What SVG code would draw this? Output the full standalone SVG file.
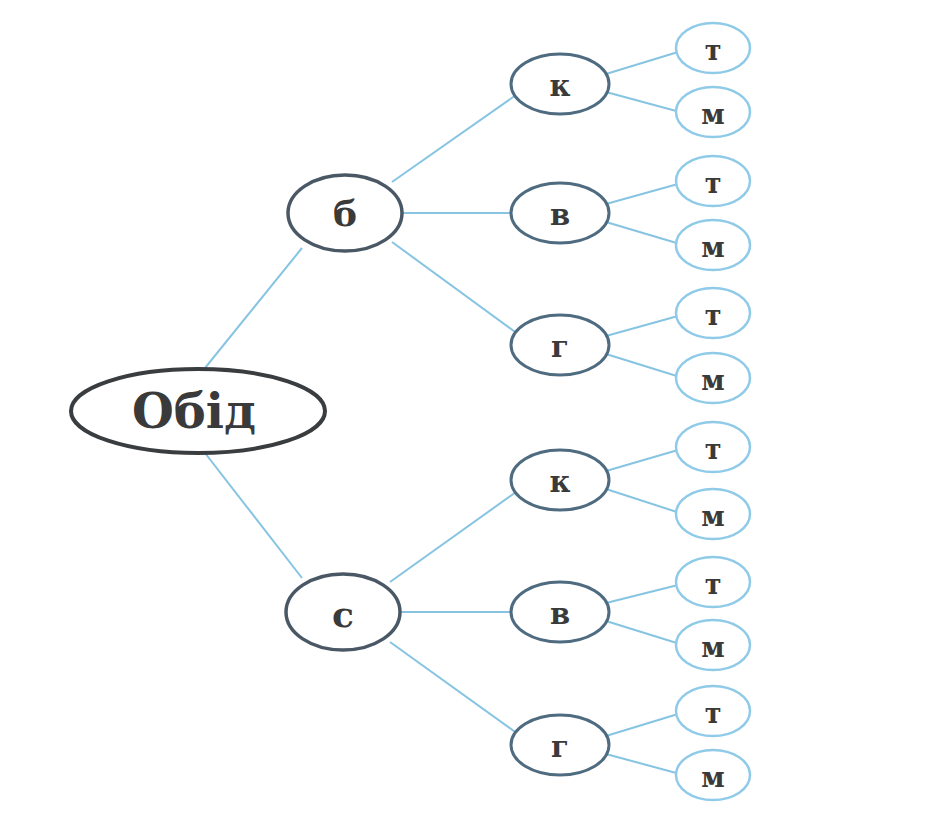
<svg xmlns="http://www.w3.org/2000/svg" width="931" height="828" viewBox="0 0 931 828">
<style>
.l0{fill:#fff;stroke:#3a3d40;stroke-width:4}
.l1{fill:#fff;stroke:#4a5866;stroke-width:3.5}
.l2{fill:#fff;stroke:#4f6b80;stroke-width:3}
.l3{fill:#fff;stroke:#8fcbe8;stroke-width:2.5}
.c line{stroke:#86c4e2;stroke-width:2}
text{font-family:"DejaVu Serif","Liberation Serif",serif;font-weight:bold;fill:#3a3a3a;text-anchor:middle;dominant-baseline:central}
.t0{font-size:48px}
.t1{font-size:36px}
.t2{font-size:29px}
.t3{font-size:27px}
</style>
<rect width="931" height="828" fill="#fff"/>
<g class="c" id="connectors">
<line x1="205" y1="368" x2="302" y2="248"/>
<line x1="205" y1="453" x2="302" y2="578"/>
<line x1="392" y1="182" x2="516" y2="95"/>
<line x1="403" y1="213" x2="512" y2="213"/>
<line x1="392" y1="242" x2="518" y2="334"/>
<line x1="390" y1="582" x2="516" y2="492"/>
<line x1="401" y1="612" x2="512" y2="612"/>
<line x1="390" y1="642" x2="518" y2="734"/>
<line x1="606" y1="74" x2="678" y2="52"/>
<line x1="606" y1="92" x2="680" y2="112"/>
<line x1="606" y1="204" x2="678" y2="184"/>
<line x1="606" y1="222" x2="680" y2="244"/>
<line x1="606" y1="336" x2="678" y2="316"/>
<line x1="606" y1="354" x2="680" y2="377"/>
<line x1="606" y1="471" x2="678" y2="450"/>
<line x1="606" y1="489" x2="680" y2="513"/>
<line x1="606" y1="603" x2="678" y2="585"/>
<line x1="606" y1="621" x2="680" y2="644"/>
<line x1="606" y1="736" x2="678" y2="714"/>
<line x1="606" y1="754" x2="680" y2="774"/>
</g>
<g id="n-root"><ellipse class="l0" cx="198" cy="411" rx="127" ry="42"/><text class="t0" x="194" y="411">Обід</text></g>
<g id="n-b"><ellipse class="l1" cx="345" cy="213" rx="57" ry="38"/><text class="t1" x="345" y="213">б</text></g>
<g id="n-s"><ellipse class="l1" cx="343" cy="612" rx="57" ry="38"/><text class="t1" x="343" y="614">с</text></g>
<g id="n-b-k"><ellipse class="l2" cx="560" cy="84" rx="49" ry="30"/><text class="t2" x="560" y="86">к</text></g>
<g id="n-b-v"><ellipse class="l2" cx="560" cy="213" rx="49" ry="30"/><text class="t2" x="560" y="215">в</text></g>
<g id="n-b-g"><ellipse class="l2" cx="560" cy="345" rx="49" ry="30"/><text class="t2" x="560" y="347">г</text></g>
<g id="n-s-k"><ellipse class="l2" cx="560" cy="480" rx="49" ry="30"/><text class="t2" x="560" y="482">к</text></g>
<g id="n-s-v"><ellipse class="l2" cx="560" cy="612" rx="49" ry="30"/><text class="t2" x="560" y="614">в</text></g>
<g id="n-s-g"><ellipse class="l2" cx="560" cy="745" rx="49" ry="30"/><text class="t2" x="560" y="747">г</text></g>
<g id="n-b-k-t"><ellipse class="l3" cx="713" cy="48" rx="37" ry="25"/><text class="t3" x="713" y="50">т</text></g>
<g id="n-b-k-m"><ellipse class="l3" cx="713" cy="112" rx="37" ry="25"/><text class="t3" x="713" y="114">м</text></g>
<g id="n-b-v-t"><ellipse class="l3" cx="713" cy="181" rx="37" ry="25"/><text class="t3" x="713" y="183">т</text></g>
<g id="n-b-v-m"><ellipse class="l3" cx="713" cy="245" rx="37" ry="25"/><text class="t3" x="713" y="247">м</text></g>
<g id="n-b-g-t"><ellipse class="l3" cx="713" cy="313" rx="37" ry="25"/><text class="t3" x="713" y="315">т</text></g>
<g id="n-b-g-m"><ellipse class="l3" cx="713" cy="378" rx="37" ry="25"/><text class="t3" x="713" y="380">м</text></g>
<g id="n-s-k-t"><ellipse class="l3" cx="713" cy="447" rx="37" ry="25"/><text class="t3" x="713" y="449">т</text></g>
<g id="n-s-k-m"><ellipse class="l3" cx="713" cy="514" rx="37" ry="25"/><text class="t3" x="713" y="516">м</text></g>
<g id="n-s-v-t"><ellipse class="l3" cx="713" cy="582" rx="37" ry="25"/><text class="t3" x="713" y="584">т</text></g>
<g id="n-s-v-m"><ellipse class="l3" cx="713" cy="645" rx="37" ry="25"/><text class="t3" x="713" y="647">м</text></g>
<g id="n-s-g-t"><ellipse class="l3" cx="713" cy="711" rx="37" ry="25"/><text class="t3" x="713" y="713">т</text></g>
<g id="n-s-g-m"><ellipse class="l3" cx="713" cy="775" rx="37" ry="25"/><text class="t3" x="713" y="777">м</text></g>
</svg>
